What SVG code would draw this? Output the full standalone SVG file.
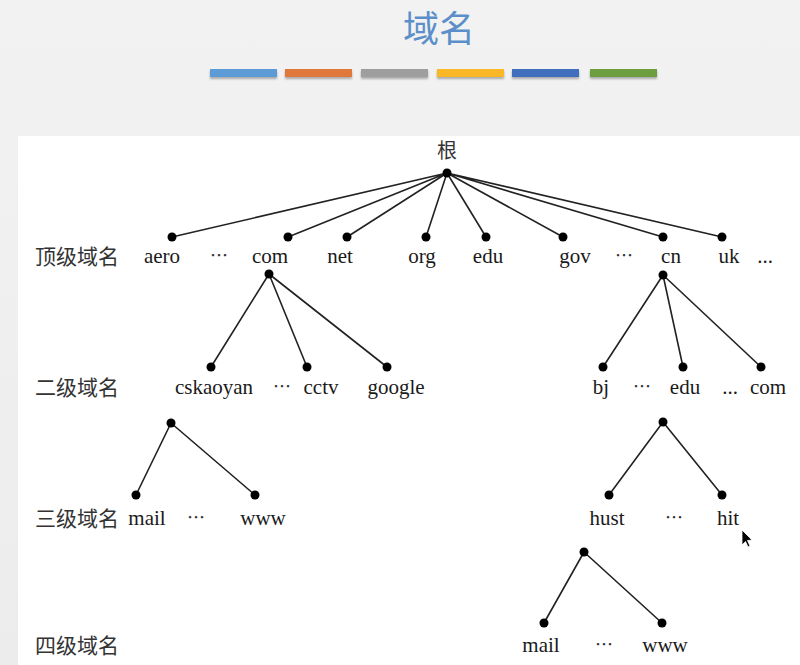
<svg xmlns="http://www.w3.org/2000/svg" width="800" height="665" viewBox="0 0 800 665">
<defs>
<linearGradient id="bg" x1="0" y1="0" x2="0" y2="1">
<stop offset="0" stop-color="#f2f2f2"/>
<stop offset="1" stop-color="#ececec"/>
</linearGradient>
<filter id="sh" x="-10%" y="-50%" width="120%" height="250%">
<feDropShadow dx="0" dy="2" stdDeviation="1.2" flood-color="#000" flood-opacity="0.3"/>
</filter>
</defs>
<style>
.t{font-family:"Liberation Serif","Noto Sans CJK SC",serif;font-size:21px;fill:#1a1a1a;text-anchor:middle}
.cn{font-family:"Noto Sans CJK SC","Liberation Serif",serif;font-size:21px;fill:#333;text-anchor:start}
.el{font-family:"Noto Sans CJK SC",sans-serif;font-size:18px;fill:#333;text-anchor:middle}
.e{stroke:#222;stroke-width:1.6;fill:none}
.d{fill:#000}
</style>
<rect width="800" height="665" fill="url(#bg)"/>
<rect x="18" y="136" width="782" height="529" fill="#ffffff"/>
<g id="title">
<text x="439" y="42" font-family="Noto Sans CJK SC, sans-serif" font-size="36" fill="#5b8fc9" text-anchor="middle">域名</text>
<g filter="url(#sh)">
<rect x="210" y="69" width="67" height="8" fill="#5b9bd5"/>
<rect x="285" y="69" width="67" height="8" fill="#e0773a"/>
<rect x="361" y="69" width="67" height="8" fill="#9e9e9e"/>
<rect x="437" y="69" width="67" height="8" fill="#fbb826"/>
<rect x="512" y="69" width="67" height="8" fill="#4170bd"/>
<rect x="590" y="69" width="67" height="8" fill="#6c9e3f"/>
</g>
</g>
<g id="connectors">
<path class="e" d="M447 173L172 237M447 173L288 237M447 173L347 237M447 173L426 237M447 173L486 237M447 173L563 237M447 173L663 237M447 173L722 237"/>
<path class="e" d="M269 274L211 367M269 274L307 367M269 274L387 367"/>
<path class="e" d="M663 275L603 367M663 275L683 367M663 275L761 367"/>
<path class="e" d="M171 423L136 495M171 423L255 495"/>
<path class="e" d="M663 422L609 495M663 422L722 495"/>
<path class="e" d="M584 552L544 623M584 552L662 623"/>
</g>
<g id="levels">
<text class="cn" x="35" y="264">顶级域名</text>
<text class="cn" x="35" y="395">二级域名</text>
<text class="cn" x="35" y="526">三级域名</text>
<text class="cn" x="35" y="653">四级域名</text>
</g>
<g id="root">
<circle class="d" cx="447" cy="173" r="4.5"/>
<text x="447" y="158" font-family="Noto Sans CJK SC, sans-serif" font-size="20" fill="#333" text-anchor="middle">根</text>
</g>
<g id="tld">
<circle class="d" cx="172" cy="237" r="4.5"/><text class="t" x="162" y="263">aero</text>
<text class="el" x="219" y="262">⋯</text>
<circle class="d" cx="288" cy="237" r="4.5"/><text class="t" x="270" y="263">com</text>
<circle class="d" cx="347" cy="237" r="4.5"/><text class="t" x="340" y="263">net</text>
<circle class="d" cx="426" cy="237" r="4.5"/><text class="t" x="422" y="263">org</text>
<circle class="d" cx="486" cy="237" r="4.5"/><text class="t" x="488" y="263">edu</text>
<circle class="d" cx="563" cy="237" r="4.5"/><text class="t" x="575" y="263">gov</text>
<text class="el" x="624" y="262">⋯</text>
<circle class="d" cx="663" cy="237" r="4.5"/><text class="t" x="671" y="263">cn</text>
<circle class="d" cx="722" cy="237" r="4.5"/><text class="t" x="729" y="263">uk</text>
<text class="t" x="765" y="263">...</text>
</g>
<g id="com-sub">
<circle class="d" cx="269" cy="274" r="4.5"/>
<circle class="d" cx="211" cy="367" r="4.5"/><text class="t" x="214" y="394">cskaoyan</text>
<text class="el" x="282" y="393">⋯</text>
<circle class="d" cx="307" cy="367" r="4.5"/><text class="t" x="321" y="394">cctv</text>
<circle class="d" cx="387" cy="367" r="4.5"/><text class="t" x="396" y="394">google</text>
</g>
<g id="cn-sub">
<circle class="d" cx="663" cy="275" r="4.5"/>
<circle class="d" cx="603" cy="367" r="4.5"/><text class="t" x="601" y="394">bj</text>
<text class="el" x="642" y="393">⋯</text>
<circle class="d" cx="683" cy="367" r="4.5"/><text class="t" x="685" y="394">edu</text>
<text class="t" x="730" y="394">...</text>
<circle class="d" cx="761" cy="367" r="4.5"/><text class="t" x="768" y="394">com</text>
</g>
<g id="cskaoyan-sub">
<circle class="d" cx="171" cy="423" r="4.5"/>
<circle class="d" cx="136" cy="495" r="4.5"/><text class="t" x="147" y="525">mail</text>
<text class="el" x="196" y="524">⋯</text>
<circle class="d" cx="255" cy="495" r="4.5"/><text class="t" x="263" y="525">www</text>
</g>
<g id="edu-sub">
<circle class="d" cx="663" cy="422" r="4.5"/>
<circle class="d" cx="609" cy="495" r="4.5"/><text class="t" x="607" y="525">hust</text>
<text class="el" x="674" y="524">⋯</text>
<circle class="d" cx="722" cy="495" r="4.5"/><text class="t" x="728" y="525">hit</text>
</g>
<g id="hust-sub">
<circle class="d" cx="584" cy="552" r="4.5"/>
<circle class="d" cx="544" cy="623" r="4.5"/><text class="t" x="541" y="652">mail</text>
<text class="el" x="604" y="651">⋯</text>
<circle class="d" cx="662" cy="623" r="4.5"/><text class="t" x="665" y="652">www</text>
</g>
<path d="M742 530L742 545L745.5 541.5L748 547L750 546L747.5 540.5L752 540Z" fill="#000" stroke="#fff" stroke-width="0.8"/>
</svg>
